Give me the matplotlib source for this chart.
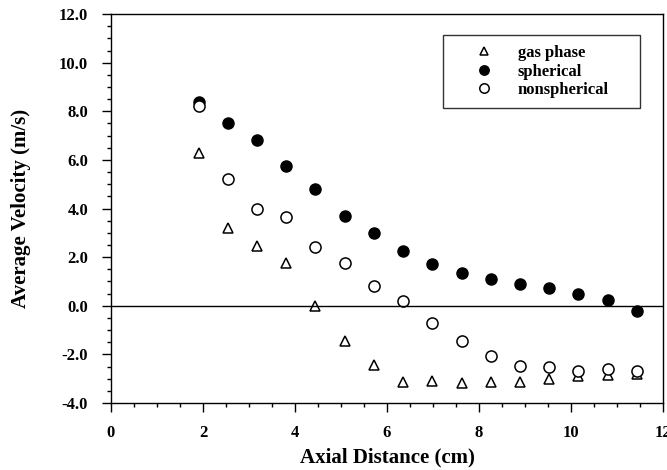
import matplotlib.pyplot as plt
from matplotlib.ticker import MultipleLocator, FormatStrFormatter

plt.rcParams['font.family'] = ['Liberation Serif', 'DejaVu Serif']
plt.rcParams['font.weight'] = 'bold'

distance = [1.905, 2.54, 3.175, 3.81, 4.445, 5.08, 5.715, 6.35, 6.985, 7.62,
            8.255, 8.89, 9.525, 10.16, 10.795, 11.43]
gas_phase = [6.3, 3.2, 2.45, 1.75, 0.0, -1.45, -2.45, -3.12, -3.08, -3.18,
             -3.12, -3.12, -3.0, -2.9, -2.85, -2.8]
spherical = [8.4, 7.5, 6.8, 5.75, 4.8, 3.7, 3.0, 2.25, 1.7, 1.35,
             1.1, 0.9, 0.75, 0.5, 0.25, -0.2]
nonspherical = [8.2, 5.2, 4.0, 3.65, 2.4, 1.75, 0.8, 0.2, -0.7, -1.45,
                -2.05, -2.48, -2.54, -2.67, -2.6, -2.67]

fig = plt.figure(figsize=(6.67, 4.7), dpi=100)
ax = fig.add_axes([0.1664, 0.1426, 0.8276, 0.8274])

ax.plot(distance, gas_phase, linestyle='none', marker='^', markersize=7,
        markerfacecolor='white', markeredgecolor='black', markeredgewidth=1.1,
        label='gas phase')
ax.plot(distance, spherical, linestyle='none', marker='o', markersize=8,
        markerfacecolor='black', markeredgecolor='black', label='spherical')
ax.plot(distance, nonspherical, linestyle='none', marker='o', markersize=8,
        markerfacecolor='white', markeredgecolor='black', markeredgewidth=1.1,
        label='nonspherical')
ax.axhline(0, color='black', linewidth=1.0)

ax.set_xlim(0, 12)
ax.set_ylim(-4, 12)
ax.xaxis.set_major_locator(MultipleLocator(2))
ax.xaxis.set_minor_locator(MultipleLocator(0.5))
ax.yaxis.set_major_locator(MultipleLocator(2))
ax.yaxis.set_minor_locator(MultipleLocator(0.5))
ax.yaxis.set_major_formatter(FormatStrFormatter('%.1f'))
ax.tick_params(which='major', direction='out', length=6.5, width=1, labelsize=12)
ax.tick_params(which='minor', direction='out', length=3, width=1)
ax.tick_params(axis='y', which='major', pad=10)
ax.tick_params(axis='x', which='major', pad=9)
for s in ax.spines.values():
    s.set_linewidth(1.0)

ax.set_xlabel('Axial Distance (cm)', fontsize=15, fontweight='bold', labelpad=5)
ax.set_ylabel('Average Velocity (m/s)', fontsize=15, fontweight='bold', labelpad=20)

leg = ax.legend(loc='upper left', bbox_to_anchor=(0.601, 0.946, 0.357, 0.0),
                mode='expand', borderaxespad=0, fontsize=12,
                frameon=True, fancybox=False, edgecolor='black',
                handlelength=3.8, handletextpad=0.1,
                labelspacing=0.15, borderpad=0.6, markerscale=0.85)
leg.get_frame().set_linewidth(1.0)

fig.savefig('out.png', dpi=100)
